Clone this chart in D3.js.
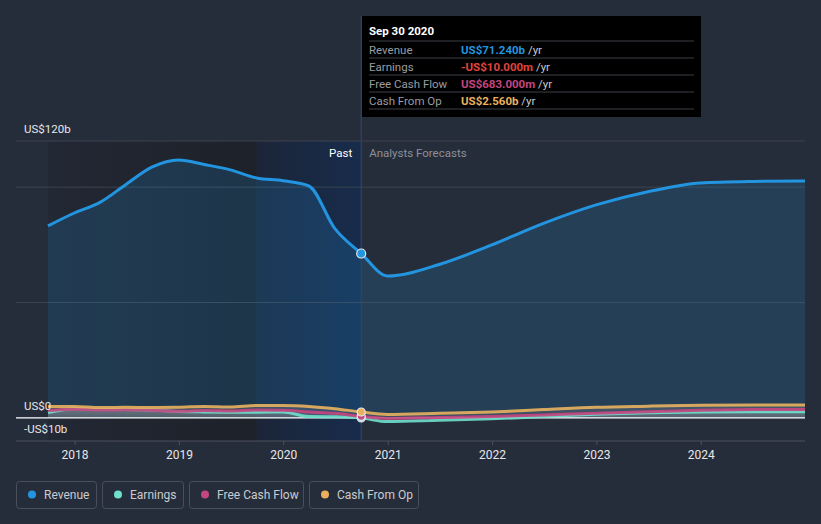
<!DOCTYPE html>
<html><head><meta charset="utf-8">
<script src="https://cdn.jsdelivr.net/npm/d3@7"></script>
<style>
html,body{margin:0;padding:0;background:#262d3a;}
svg{display:block;font-family:Roboto,"Open Sans",sans-serif;}
</style></head>
<body>
<svg id="c" width="821" height="524"></svg>
<script>
// ---- data (US$ billions) ----
const pastDates = ["2017-09-30","2017-12-31","2018-03-31","2018-06-30","2018-09-30","2018-12-31","2019-03-31","2019-06-30","2019-09-30","2019-12-31","2020-03-31","2020-06-30","2020-09-30"];
const pastRevenue = [83.2,88.8,93.4,101.2,108.8,111.8,109.8,107.5,104.0,102.8,100.5,82.0,71.24];
const pastEarnings = [2.3,4.0,3.6,3.6,3.4,2.8,2.6,2.5,2.5,2.6,0.6,0.5,-0.01];
const pastFCF = [3.2,3.8,3.4,3.5,3.3,2.9,3.2,3.0,3.4,3.3,2.6,2.0,0.683];
const pastCFO = [4.9,5.0,4.5,4.6,4.5,4.6,5.0,4.7,5.4,5.4,5.0,4.0,2.56];

const fcDates = ["2020-09-30","2020-12-31","2021-06-30","2021-12-31","2022-06-30","2022-12-31","2023-06-30","2023-12-31","2024-06-30","2024-12-31"];
const fcRevenue = [71.24,61.5,66.5,75.0,84.3,92.3,98.0,101.8,102.5,102.7];
const fcEarnings = [-0.01,-1.6,-1.0,-0.4,0.6,1.6,2.2,2.6,2.7,2.7];
const fcFCF = [0.683,-0.2,0.2,0.6,1.3,2.0,2.7,3.3,3.6,3.7];
const fcCFO = [2.56,1.5,2.0,2.6,3.6,4.6,5.1,5.5,5.6,5.6];

const yTickValues = [-10,0,120];
const yTickLabels = ["-US$10b","US$0","US$120b"];
const gridValues = [50,100,120];
const xTickYears = [2018,2019,2020,2021,2022,2023,2024];

const seriesNames = ["Revenue","Earnings","Free Cash Flow","Cash From Op"];
const seriesColors = ["#2394df","#6ee0cc","#c4467f","#e9b15e"];

const tipTitle = "Sep 30 2020";
const tipValues = ["US$71.240b","-US$10.000m","US$683.000m","US$2.560b"];
const tipColors = ["#2394df","#e0443c","#c4467f","#e9b15e"];

// ---- setup ----
const parse = d3.timeParse("%Y-%m-%d");
const svg = d3.select("#c");
const x = d3.scaleTime().domain([parse("2017-09-30"), parse("2024-12-31")]).range([48, 805]);
const y = d3.scaleLinear().domain([-10, 120]).range([441, 141]);
const nowDate = parse("2020-09-30");
const yearAgo = parse("2019-09-30");

const defs = svg.append("defs");
const g1 = defs.append("linearGradient").attr("id","pastDark").attr("x1",0).attr("x2",1).attr("y1",0).attr("y2",0);
g1.append("stop").attr("offset","0%").attr("stop-color","#222834");
g1.append("stop").attr("offset","100%").attr("stop-color","#1d2129");
const g2 = defs.append("linearGradient").attr("id","pastBlue").attr("x1",0).attr("x2",1).attr("y1",0).attr("y2",0);
g2.append("stop").attr("offset","0%").attr("stop-color","#1c2538");
g2.append("stop").attr("offset","100%").attr("stop-color","#172c4c");
const g3 = defs.append("linearGradient").attr("id","smallFill").attr("x1",0).attr("x2",0).attr("y1",0).attr("y2",1);
g3.append("stop").attr("offset","0%").attr("stop-color","#8a8d92").attr("stop-opacity",0.35);
g3.append("stop").attr("offset","100%").attr("stop-color","#8a8d92").attr("stop-opacity",0.15);

// past shaded regions
svg.append("rect").attr("x", x.range()[0]).attr("y", y(120)).attr("width", x(yearAgo)-x.range()[0]).attr("height", y(-10)-y(120)).attr("fill","url(#pastDark)");
svg.append("rect").attr("x", x(yearAgo)).attr("y", y(120)).attr("width", x(nowDate)-x(yearAgo)).attr("height", y(-10)-y(120)).attr("fill","url(#pastBlue)");

// gridlines
svg.selectAll(".grid").data(gridValues).enter().append("line")
  .attr("x1",16).attr("x2",805).attr("y1",d=>y(d)).attr("y2",d=>y(d))
  .attr("stroke","#3c4350").attr("stroke-width",1);

// build series
const pd = pastDates.map(parse), fd = fcDates.map(parse);
const mk = (dates, vals) => dates.map((d,i)=>({d, v: vals[i]}));
const allRev = mk(pd,pastRevenue).concat(mk(fd,fcRevenue).slice(1));
const allE = mk(pd,pastEarnings).concat(mk(fd,fcEarnings).slice(1));
const allF = mk(pd,pastFCF).concat(mk(fd,fcFCF).slice(1));
const allC = mk(pd,pastCFO).concat(mk(fd,fcCFO).slice(1));

const line = d3.line().x(d=>x(d.d)).y(d=>y(d.v)).curve(d3.curveMonotoneX);
const area = d3.area().x(d=>x(d.d)).y0(y(0)).y1(d=>y(d.v)).curve(d3.curveMonotoneX);

// revenue area
svg.append("path").datum(allRev).attr("d",area).attr("fill","#2394df").attr("fill-opacity",0.18);
// small areas
[allC, allF, allE].forEach(s=>{
  svg.append("path").datum(s).attr("d",area).attr("fill","url(#smallFill)");
});

// zero line
svg.append("line").attr("x1",16).attr("x2",805).attr("y1",y(0)).attr("y2",y(0)).attr("stroke","#ffffff").attr("stroke-width",1.2);

// small lines
[[allE,seriesColors[1]],[allF,seriesColors[2]],[allC,seriesColors[3]]].forEach(([s,c])=>{
  svg.append("path").datum(s).attr("d",line).attr("fill","none").attr("stroke",c).attr("stroke-width",3).attr("stroke-opacity",0.9);
});
// revenue line
svg.append("path").datum(allRev).attr("d",line).attr("fill","none").attr("stroke",seriesColors[0]).attr("stroke-width",3);

// divider line
svg.append("line").attr("x1",x(nowDate)).attr("x2",x(nowDate)).attr("y1",16).attr("y2",441).attr("stroke","#34496a").attr("stroke-width",1);

// bottom axis
const xa = svg.append("g").attr("transform",`translate(0,441)`);
xa.append("line").attr("x1",16).attr("x2",805).attr("y1",0).attr("y2",0).attr("stroke","#4a515d");
const axis = d3.axisBottom(x).tickValues(xTickYears.map(yr=>new Date(yr,0,1))).tickFormat(d3.timeFormat("%Y")).tickSize(4).tickPadding(5);
xa.call(axis);
xa.select(".domain").remove();
xa.selectAll(".tick line").attr("stroke","#4a515d");
xa.selectAll(".tick text").attr("fill","#e6e7e9").attr("font-size",12).attr("font-family","Roboto");

// y labels
svg.selectAll(".ylab").data(yTickValues).enter().append("text")
  .attr("x",24).attr("y",(d)=> d===120 ? y(d)-8 : (d===0 ? y(d)-8 : y(d)-8))
  .attr("fill","#e6e7e9").attr("font-size",11.5)
  .text((d,i)=>yTickLabels[i]);

// dots at now
[[pastEarnings,1],[pastFCF,2],[pastCFO,3],[pastRevenue,0]].forEach(([arr,i])=>{
  svg.append("circle").attr("cx",x(nowDate)).attr("cy",y(arr[arr.length-1])).attr("r",i===0?4.5:4)
    .attr("fill",seriesColors[i]).attr("stroke","#e8e8ee").attr("stroke-width",1.2);
});

// Past / Analysts Forecasts
svg.append("text").attr("x",x(nowDate)-9).attr("y",157).attr("text-anchor","end").attr("fill","#ffffff").attr("font-size",11.5).text("Past");
svg.append("text").attr("x",x(nowDate)+8).attr("y",157).attr("fill","#8b9099").attr("font-size",11.5).text("Analysts Forecasts");

// tooltip
const tip = svg.append("g").attr("transform","translate(362,16)");
tip.append("rect").attr("width",339).attr("height",101).attr("fill","#000000");
tip.append("text").attr("x",7).attr("y",19).attr("fill","#ffffff").attr("font-size",11.5).attr("font-weight","bold").text(tipTitle);
seriesNames.forEach((n,i)=>{
  const ry = 25 + i*17;
  tip.append("line").attr("x1",7).attr("x2",332).attr("y1",ry).attr("y2",ry).attr("stroke","#3d3f44");
  tip.append("text").attr("x",7).attr("y",ry+12.5).attr("fill","#9a9ca1").attr("font-size",11.5).text(n);
  const t = tip.append("text").attr("x",99).attr("y",ry+12.5).attr("font-size",11.5);
  t.append("tspan").attr("fill",tipColors[i]).attr("font-weight","bold").text(tipValues[i]);
  t.append("tspan").attr("fill","#c9cacd").text(" /yr");
});
tip.append("line").attr("x1",7).attr("x2",332).attr("y1",93).attr("y2",93).attr("stroke","#3d3f44");

// legend
const lg = svg.append("g").attr("transform","translate(16,481)");
let lx = 0;
const widths = [81,82,115,110];
seriesNames.forEach((n,i)=>{
  const b = lg.append("g").attr("transform",`translate(${lx},0)`);
  b.append("rect").attr("x",0.5).attr("y",0.5).attr("width",widths[i]-1).attr("height",27).attr("rx",3).attr("fill","none").attr("stroke","#4a505b");
  b.append("circle").attr("cx",16).attr("cy",13.5).attr("r",4).attr("fill",seriesColors[i]);
  b.append("text").attr("x",28).attr("y",18).attr("fill","#c9cbcf").attr("font-size",12).text(n);
  lx += widths[i] + 5;
});
</script>
</body></html>
